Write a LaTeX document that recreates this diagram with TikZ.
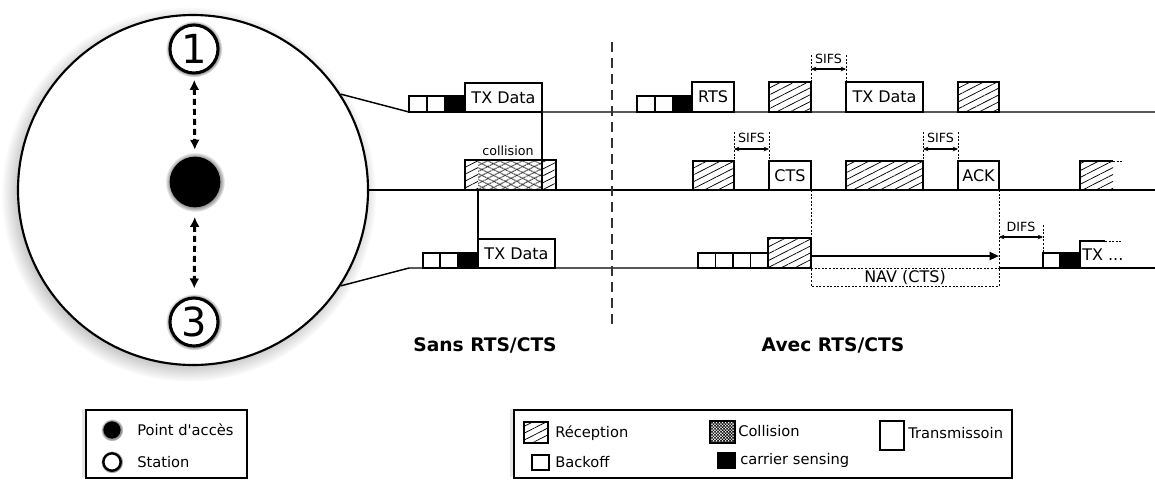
\documentclass[tikz,border=0pt]{standalone}
\usepackage{fontspec}
\setmainfont{DejaVu Sans}[Ligatures=TeXOff]
\usetikzlibrary{arrows.meta, patterns.meta, shadows}
\definecolor{Ink}{HTML}{000000}
\definecolor{Rule}{HTML}{333333}
\tikzset{
  timeline/.style={line width=1.1pt, color=Ink},
  slot/.style={draw=Ink, fill=white, line width=0.9pt},
  sense/.style={draw=Ink, fill=Ink, line width=0.9pt},
  hatch/.style={pattern={Lines[angle=27, distance=4.6pt, line width=0.55pt]}},
  xhatchup/.style={pattern={Lines[angle=27, distance=4pt, line width=0.65pt]}},
  xhatchdown/.style={pattern={Lines[angle=-27, distance=4pt, line width=0.65pt]}},
  denseup/.style={pattern={Lines[angle=45, distance=1.6pt, line width=0.45pt]}},
  densedown/.style={pattern={Lines[angle=-45, distance=1.6pt, line width=0.45pt]}},
  outline/.style={draw=Ink, line width=0.9pt},
  guide/.style={line width=0.7pt, dash pattern=on 1.5pt off 1.2pt},
  sifs/.style={{Stealth[length=4pt, width=3.5pt]}-{Stealth[length=4pt, width=3.5pt]}, line width=0.8pt},
  nav/.style={-{Triangle[length=7pt, width=6pt]}, line width=1.5pt},
  link/.style={{Latex[length=7.5pt, width=7.5pt]}-{Latex[length=7.5pt, width=7.5pt]}, line width=2.2pt, dash pattern=on 4.5pt off 3pt},
  divider/.style={color=Rule, line width=1.2pt, dash pattern=on 7.5pt off 4.5pt},
  lbl/.style={font=\fontsize{12}{14}\selectfont, inner sep=0pt},
  small/.style={font=\fontsize{9.5}{11}\selectfont, inner sep=0pt},
  keytext/.style={font=\fontsize{11}{13}\selectfont, inner sep=0pt, anchor=west},
  heading/.style={font=\fontsize{14}{16}\selectfont\bfseries, inner sep=0pt},
  cell/.style={circle, draw=Ink, line width=1.6pt, fill=white, minimum size=262.5pt, inner sep=0pt,
    circular drop shadow={shadow xshift=-3pt, shadow yshift=-3pt, shadow scale=1.07, opacity=0.7}},
  station/.style={circle, draw=Ink, line width=2.3pt, fill=white, minimum size=36pt, inner sep=0pt,
    font=\fontsize{30}{30}\selectfont,
    circular drop shadow={shadow xshift=0pt, shadow yshift=0pt, shadow scale=1.18}},
  apoint/.style={circle, fill=Ink, minimum size=38pt, inner sep=0pt,
    circular drop shadow={shadow xshift=0pt, shadow yshift=0pt, shadow scale=1.18, opacity=0.8}},
  stamini/.style={circle, draw=Ink, line width=1.8pt, fill=white, minimum size=13pt, inner sep=0pt,
    circular drop shadow={shadow xshift=0pt, shadow yshift=0pt, shadow scale=1.3}},
  apmini/.style={circle, fill=Ink, minimum size=13pt, inner sep=0pt,
    circular drop shadow={shadow xshift=0pt, shadow yshift=0pt, shadow scale=1.3, opacity=0.8}},
  panel/.style={draw=Ink, line width=0.9pt, fill=white, inner sep=0pt,
    drop shadow={shadow xshift=-3pt, shadow yshift=1pt, opacity=0.2}},
}

\begin{document}
\begin{tikzpicture}[x=0.75pt, y=-0.75pt]
  \useasboundingbox (0,0) rectangle (1155,480);

  % Cell with access point and two stations
  \node[cell] (cell) at (193,190) {};
  \node[station] (s1) at (194,49) {1};
  \node[apoint] (ap) at (195,182) {};
  \node[station] (s3) at (194,322) {3};
  \draw[link, shorten <=4pt, shorten >=5pt] (s1) -- (ap);
  \draw[link, shorten <=7pt, shorten >=6pt] (ap) -- (s3);

  % Time lines
  \coordinate (lineA) at (409,112);
  \coordinate (lineB) at (0,190);
  \coordinate (lineC) at (409,268);
  \draw[timeline] (cell.33) -- (lineA) -- (1155,112);
  \draw[timeline] (cell.east) -- (1155,190);
  \draw[timeline] (cell.-33) -- (lineC) -- (811,268);
  \draw[timeline] (999,268) -- (1155,268);

  % Divider
  \draw[divider] (612,42) -- (612,327);

  % Sans RTS/CTS: station 1
  \foreach \x in {409,427}
    \draw[slot] (\x,96) rectangle ++(18,16);
  \draw[sense] (445,96) rectangle (465,112);
  \draw[slot] (465,83) rectangle (542,112) coordinate (txA);
  \node[lbl] (txAtext) at (503.5,97.5) {TX Data};

  % Sans RTS/CTS: access point
  \fill[hatch] (465,160) rectangle (478,190);
  \fill[xhatchup] (478,160) rectangle (542,190);
  \fill[xhatchdown] (478,160) rectangle (542,190);
  \fill[hatch] (542,160) rectangle (556,190);
  \draw[outline] (465,160) rectangle (556,190);
  \node[small] (coll) at (508,151) {collision};
  \draw[timeline] (txA) -- (txA |- lineB);

  % Sans RTS/CTS: station 3
  \foreach \x in {423,440}
    \draw[slot] (\x,253) rectangle ++(17.5,15);
  \draw[sense] (457.5,253) rectangle (478,268);
  \draw[slot] (478,239) rectangle (555,268);
  \coordinate (txC) at (478,239);
  \node[lbl] (txCtext) at (516.5,253.5) {TX Data};
  \draw[timeline] (txC) -- (txC |- lineB);

  % Avec RTS/CTS: station 1
  \foreach \x in {637,655}
    \draw[slot] (\x,96) rectangle ++(18,16);
  \draw[sense] (673,96) rectangle (692,112);
  \draw[slot] (692,82) rectangle (734,112);
  \node[lbl] (rts) at (713,97) {RTS};
  \draw[outline, hatch] (769,82) rectangle (811,112);
  \draw[slot] (846,82) rectangle (923,112);
  \node[lbl] (txB) at (884.5,97) {TX Data};
  \draw[outline, hatch] (958,82) rectangle (999,112);
  \draw[guide] (811,55) -- (811,82);
  \draw[guide] (846,55) -- (846,82);
  \draw[sifs] (811,69) -- (846,69);
  \node[small] (sifsA) at (828.5,59) {SIFS};

  % Avec RTS/CTS: access point
  \draw[outline, hatch] (693,161) rectangle (734,190);
  \draw[slot] (769,161) rectangle (811,190);
  \node[lbl] (cts) at (790,175.5) {CTS};
  \draw[outline, hatch] (846,161) rectangle (923,190);
  \draw[slot] (958,161) rectangle (999,190);
  \node[lbl] (ack) at (978.5,175.5) {ACK};
  \foreach \x/\y in {734/769,923/958}{
    \draw[guide] (\x,132) -- (\x,161);
    \draw[guide] (\y,132) -- (\y,161);
    \draw[sifs] (\x,149) -- (\y,149);
  }
  \node[small] (sifsB) at (751.5,138) {SIFS};
  \node[small] (sifsC) at (940.5,138) {SIFS};
  \fill[hatch] (1080,161) rectangle (1113,190);
  \draw[outline] (1080,190) -- (1080,161) -- (1113,161);
  \draw[guide] (1113,161) -- (1122,161);

  % Avec RTS/CTS: station 3
  \foreach \x in {698,715.5,733,750.5}
    \draw[slot] (\x,253) rectangle ++(17.5,15);
  \draw[outline, hatch] (768,238) rectangle (811,268);
  \draw[guide] (811,190) -- (811,286) -- (999,286) -- (999,190);
  \draw[guide] (811,268) -- (999,268);
  \node[lbl] (navtext) at (905,277) {NAV (CTS)};
  \draw[nav] (811,256) -- (999,256);
  \draw[guide] (1043,225) -- (1043,253);
  \draw[sifs] (999,237) -- (1043,237);
  \node[small] (difs) at (1021,227) {DIFS};
  \draw[slot] (1043,253) rectangle (1060,268);
  \draw[sense] (1060,253) rectangle (1080,268);
  \draw[outline] (1080,268) -- (1080,241) -- (1105,241);
  \draw[guide] (1105,241) -- (1122,241);
  \node[lbl, anchor=west] (txD) at (1082,255) {TX ...};

  % Headings
  \node[heading] (sans) at (485,345) {Sans RTS/CTS};
  \node[heading] (avec) at (833,345) {Avec RTS/CTS};

  % Legend: nodes
  \node[panel, minimum width=120.75pt, minimum height=51pt] (keyA) at (166.5,444) {};
  \node[apmini] (kap) at (112,430) {};
  \node[keytext] (kaptext) at (137,430) {Point d'accès};
  \node[stamini] (ksta) at (112,462) {};
  \node[keytext] (kstatext) at (137,462) {Station};

  % Legend: slots
  \node[panel, minimum width=373.5pt, minimum height=51pt] (keyB) at (763,444) {};
  \draw[outline, hatch] (524,422) rectangle (548,443);
  \node[keytext] (krx) at (555,433) {Réception};
  \fill[denseup] (710,421) rectangle (735,443);
  \fill[densedown] (710,421) rectangle (735,443);
  \draw[outline] (710,421) rectangle (735,443);
  \node[keytext] (kcoll) at (738,431) {Collision};
  \draw[slot] (880,421) rectangle (904,450);
  \node[keytext] (ktx) at (908,433) {Transmissoin};
  \draw[slot] (532,455) rectangle (549,470);
  \node[keytext] (kbo) at (555,462) {Backoff};
  \draw[sense] (718,453) rectangle (735,468);
  \node[keytext] (kcs) at (740,460) {carrier sensing};
\end{tikzpicture}
\end{document}
